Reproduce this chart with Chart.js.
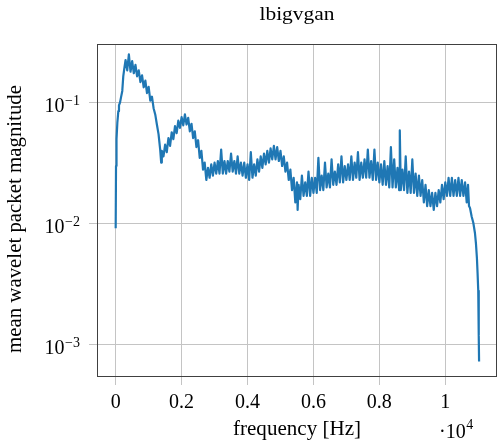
<!DOCTYPE html>
<html><head><meta charset="utf-8">
<script src="https://cdn.jsdelivr.net/npm/chart.js@4/dist/chart.umd.min.js"></script>
<style>html,body{margin:0;padding:0;background:#fff;}#wrap{width:498px;height:448px;}</style>
</head><body><div id="wrap"><canvas id="c" width="498" height="448"></canvas></div>
<script>
const chartTitle = 'lbigvgan';
const xAxisTitle = 'frequency [Hz]';
const yAxisTitle = 'mean wavelet packet magnitude';
const xTickValues = [0, 2000, 4000, 6000, 8000, 10000];
const xTickLabels = ['0', '0.2', '0.4', '0.6', '0.8', '1'];
const yTickValues = [1e-3, 1e-2, 1e-1];
const yTickExponents = ['\u22123', '\u22122', '\u22121'];

const freqHz = [
  0,10,20,30,50,80,100,130,160,200,
  230,260,300,350,400,450,500,550,600,650,
  700,750,800,850,900,950,1000,1050,1100,1150,
  1200,1250,1300,1350,1380,1400,1450,1500,1550,1600,
  1650,1700,1750,1800,1850,1900,1950,2000,2050,2100,
  2150,2200,2250,2300,2350,2400,2450,2500,2550,2600,
  2650,2700,2750,2800,2850,2900,2950,3000,3050,3100,
  3150,3200,3250,3300,3350,3400,3450,3500,3550,3600,
  3650,3700,3750,3800,3850,3900,3950,4000,4050,4100,
  4150,4200,4250,4300,4350,4400,4450,4500,4550,4600,
  4650,4700,4750,4800,4850,4900,4950,5000,5050,5100,
  5150,5200,5250,5300,5350,5400,5450,5500,5520,5550,
  5600,5650,5700,5750,5800,5850,5900,5950,6000,6050,
  6100,6150,6200,6250,6300,6350,6400,6450,6500,6550,
  6600,6650,6700,6750,6800,6850,6900,6950,7000,7050,
  7100,7150,7200,7250,7300,7350,7400,7450,7500,7550,
  7600,7650,7700,7750,7800,7850,7900,7950,8000,8050,
  8100,8150,8200,8250,8300,8350,8400,8450,8500,8550,
  8600,8620,8650,8700,8750,8800,8850,8900,8950,9000,
  9050,9100,9150,9200,9250,9300,9350,9400,9450,9500,
  9550,9600,9650,9700,9750,9800,9850,9900,9950,10000,
  10050,10100,10150,10200,10250,10300,10350,10400,10450,10500,
  10550,10600,10650,10690,10720,10750,10800,10850,10900,10930,
  10960,10980,11000,11010,11020,11025
];
const magnitude = [
  0.0092,0.03,0.04,0.05,0.068,0.085,0.095,0.1,0.11,0.125,
  0.165,0.19,0.225,0.185,0.25,0.18,0.22,0.175,0.205,0.165,
  0.185,0.148,0.168,0.134,0.152,0.12,0.135,0.104,0.112,0.09,
  0.08,0.066,0.055,0.041,0.032,0.04,0.036,0.045,0.039,0.051,
  0.044,0.057,0.05,0.064,0.056,0.071,0.062,0.076,0.065,0.08,
  0.066,0.075,0.058,0.067,0.051,0.058,0.043,0.049,0.035,0.04,
  0.028,0.032,0.023,0.029,0.024,0.031,0.025,0.032,0.026,0.033,
  0.026,0.041,0.026,0.033,0.026,0.033,0.027,0.038,0.027,0.033,
  0.026,0.036,0.026,0.032,0.025,0.032,0.024,0.031,0.023,0.039,
  0.024,0.031,0.025,0.034,0.027,0.036,0.029,0.038,0.031,0.04,
  0.032,0.042,0.034,0.044,0.034,0.043,0.033,0.04,0.03,0.036,
  0.027,0.032,0.023,0.028,0.019,0.024,0.015,0.022,0.013,0.021,
  0.016,0.025,0.017,0.022,0.017,0.027,0.017,0.024,0.018,0.024,
  0.018,0.035,0.019,0.025,0.019,0.032,0.02,0.026,0.02,0.034,
  0.021,0.027,0.021,0.031,0.022,0.036,0.022,0.03,0.023,0.031,
  0.023,0.036,0.023,0.032,0.024,0.039,0.023,0.032,0.024,0.034,
  0.024,0.041,0.024,0.033,0.023,0.041,0.023,0.032,0.022,0.031,
  0.021,0.033,0.021,0.03,0.02,0.043,0.02,0.034,0.02,0.029,
  0.019,0.059,0.019,0.028,0.019,0.036,0.018,0.027,0.018,0.034,
  0.018,0.026,0.017,0.025,0.017,0.023,0.015,0.021,0.014,0.019,
  0.014,0.018,0.013,0.018,0.014,0.019,0.015,0.021,0.016,0.022,
  0.017,0.024,0.017,0.024,0.017,0.023,0.017,0.024,0.017,0.023,
  0.017,0.022,0.015,0.021,0.014,0.0135,0.0115,0.0102,0.0084,0.0069,
  0.0052,0.0039,0.0028,0.002,0.0012,0.00073
];

const SERIF = '"Liberation Serif", "DejaVu Serif", serif';
const GRID = '#c4c4c4';

function drawScaledText(ctx, text, x, y, font, targetWidth, align) {
  ctx.save();
  ctx.font = font;
  ctx.textAlign = align || 'center';
  ctx.textBaseline = 'alphabetic';
  ctx.translate(x, y);
  if (targetWidth) {
    const w = ctx.measureText(text).width;
    ctx.scale(targetWidth / w, 1);
  }
  ctx.fillText(text, 0, 0);
  ctx.restore();
}

const decorations = {
  id: 'decorations',
  afterDraw(chart) {
    const ctx = chart.ctx;
    const a = chart.chartArea;
    const xs = chart.scales.x, ys = chart.scales.y;
    ctx.save();
    ctx.strokeStyle = '#404040';
    ctx.lineWidth = 1;
    ctx.strokeRect(Math.round(a.left) + 0.5, Math.round(a.top) + 0.5,
                   Math.round(a.right - a.left) - 1, Math.round(a.bottom - a.top) - 1);
    ctx.fillStyle = '#000';
    drawScaledText(ctx, chartTitle, (a.left + a.right) / 2, 19.5, '19px ' + SERIF, 75);
    xTickValues.forEach((v, i) => {
      drawScaledText(ctx, xTickLabels[i], xs.getPixelForValue(v), 408, '20px ' + SERIF, null);
    });
    yTickValues.forEach((v, i) => {
      const gy = ys.getPixelForValue(v);
      ctx.font = '14px ' + SERIF;
      const supW = ctx.measureText(yTickExponents[i]).width;
      const right = 80;
      ctx.textAlign = 'left'; ctx.textBaseline = 'alphabetic';
      ctx.fillText(yTickExponents[i], right - supW, gy + 2.5);
      ctx.font = '20px ' + SERIF;
      ctx.textAlign = 'right';
      ctx.fillText('10', right - supW - 0.5, gy + 9);
    });
    drawScaledText(ctx, xAxisTitle, (a.left + a.right) / 2, 435, '20px ' + SERIF, 128);
    ctx.font = '20px ' + SERIF; ctx.textAlign = 'left';
    ctx.fillText('\u00b710', 439, 438);
    const mw = ctx.measureText('\u00b710').width;
    ctx.font = '14px ' + SERIF;
    ctx.fillText('4', 439 + mw + 0.5, 429);
    ctx.save();
    ctx.translate(21, 219);
    ctx.rotate(-Math.PI / 2);
    drawScaledText(ctx, yAxisTitle, 0, 0, '20px ' + SERIF, 268);
    ctx.restore();
    ctx.restore();
  }
};

const points = freqHz.map((f, i) => ({ x: f, y: magnitude[i] }));

new Chart(document.getElementById('c'), {
  type: 'line',
  data: { datasets: [{
    data: points,
    borderColor: '#1f77b4',
    borderWidth: 2.2,
    borderJoinStyle: 'round',
    pointRadius: 0,
    tension: 0,
    fill: false
  }]},
  options: {
    responsive: false,
    animation: false,
    devicePixelRatio: 1,
    layout: { padding: { top: 44, right: 1, left: 0, bottom: 0 } },
    plugins: { legend: { display: false }, title: { display: false }, tooltip: { enabled: false } },
    scales: {
      x: {
        type: 'linear', min: -567, max: 11569,
        afterBuildTicks: s => { s.ticks = xTickValues.map(v => ({ value: v })); },
        afterFit: s => { s.height = 71; },
        ticks: { display: false },
        grid: { color: GRID, lineWidth: 1, tickLength: 8, drawTicks: true },
        border: { display: false }
      },
      y: {
        type: 'logarithmic', min: 5.44e-4, max: 0.305,
        afterBuildTicks: s => { s.ticks = yTickValues.map(v => ({ value: v })); },
        afterFit: s => { s.width = 97; },
        ticks: { display: false },
        grid: { color: GRID, lineWidth: 1, tickLength: 8, drawTicks: true },
        border: { display: false }
      }
    }
  },
  plugins: [decorations]
});
</script></body></html>
